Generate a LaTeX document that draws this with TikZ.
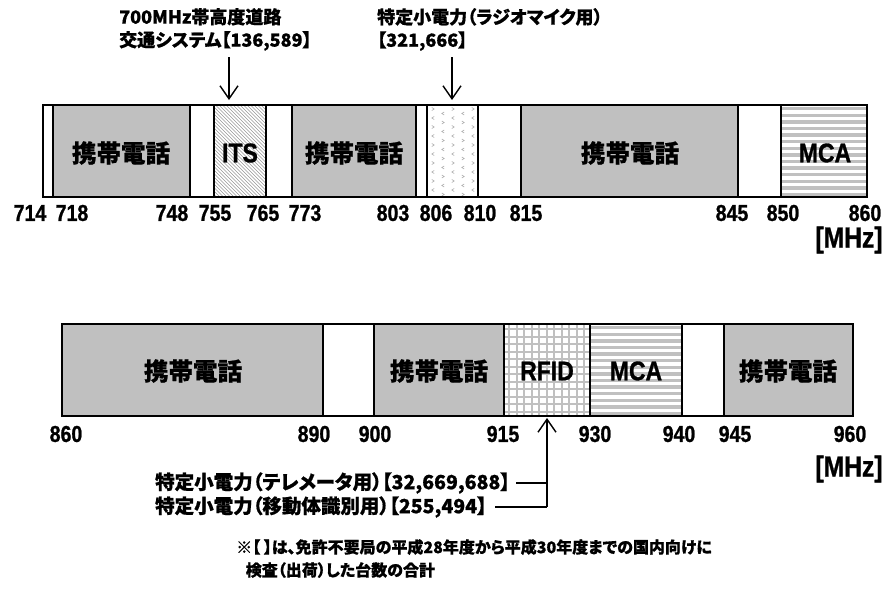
\documentclass[tikz,border=0pt]{standalone}
\usepackage{fontspec}
\setmainfont{Liberation Sans}
\newfontfamily\lat{Liberation Sans Bold}[FakeStretch=0.85,FakeBold=1]
\newfontfamily\jp{Noto Sans CJK JP}[RawFeature=+palt,BoldFeatures={FakeBold=0.8}]
\usetikzlibrary{arrows.meta}
\definecolor{phone}{RGB}{192,192,192}
\definecolor{hatchc}{RGB}{150,150,150}
\definecolor{chevc}{RGB}{160,160,160}
\begin{document}
\begin{tikzpicture}[x=1pt,y=-1pt,
  seg/.style={line width=1.4pt},
  num/.style={font=\lat\fontsize{23}{24}\selectfont,inner sep=0pt},
  unit/.style={font=\lat\fontsize{29}{30}\selectfont,inner sep=0pt},
  blab/.style={font=\lat\fontsize{27}{28}\selectfont,inner sep=0pt},
  jlab/.style={font=\jp\bfseries\fontsize{24.5}{26}\selectfont,inner sep=0pt},
  note/.style={font=\jp\bfseries\fontsize{18}{23}\selectfont,inner sep=0pt,align=left},
  lnote/.style={font=\jp\bfseries\fontsize{19.5}{23}\selectfont,inner sep=0pt},
  foot/.style={font=\jp\bfseries\fontsize{16}{23}\selectfont,inner sep=0pt,align=left},
  arr/.style={line width=1.4pt,-{Straight Barb[length=13pt,width=18pt,line width=1.4pt]}},
  conn/.style={line width=1.4pt},
  chev/.style={draw=chevc,line width=0.5pt}]
\useasboundingbox (0,0) rectangle (885,590);
\fill[white] (0,0) rectangle (885,590);

% ---------------- top band 714-860 ----------------
\fill[phone] (53,105) rectangle (190,197);
\fill[phone] (292,105) rectangle (416,197);
\fill[phone] (521,105) rectangle (738,197);
% ITS hatch
\begin{scope}
  \clip (214,105) rectangle (266,197);
  \foreach \i in {-100,-96.5,...,60}
    \draw[hatchc,line width=0.6pt] (214+\i,105) -- ++(92,92);
\end{scope}
% radio-mic chevrons
\begin{scope}
  \clip (427,105) rectangle (478,197);
  \foreach \i in {0,...,4}{
    \foreach \j in {0,...,10}{
      \pgfmathtruncatemacro\pp{mod(\i+\j,2)}
      \pgfmathsetmacro\cx{433+10*\i}
      \pgfmathsetmacro\cy{109+9*\j+4.5*mod(\i,2)}
      \ifnum\pp=0
        \draw[chev] (\cx-1.2,\cy-1.5) -- (\cx+1.2,\cy) -- (\cx-1.2,\cy+1.5);
      \else
        \draw[chev] (\cx+1.2,\cy-1.5) -- (\cx-1.2,\cy) -- (\cx+1.2,\cy+1.5);
      \fi
    }
  }
\end{scope}
% MCA stripes
\begin{scope}
  \clip (781,105) rectangle (867,197);
  \foreach \k in {0,...,14}
    \fill[phone] (781,107+6.6*\k) rectangle (867,110.3+6.6*\k);
\end{scope}
% outlines
\draw[seg] (43,105) rectangle (867,197);
\foreach \x in {53,190,214,266,292,416,427,478,521,738,781}
  \draw[seg] (\x,105) -- (\x,197);

\node[jlab] (t1) at (121,153) {携帯電話};
\node[blab] (tits) at (240,153) {ITS};
\node[jlab] (t2) at (354,153) {携帯電話};
\node[jlab] (t3) at (630,153) {携帯電話};
\node[blab] (tmca) at (825,153) {MCA};

\node[num] at (30,213) {714};
\node[num] at (72,213) {718};
\node[num] at (172,213) {748};
\node[num] at (215,213) {755};
\node[num] at (263,213) {765};
\node[num] at (305,213) {773};
\node[num] at (393,213) {803};
\node[num] at (436,213) {806};
\node[num] at (480,213) {810};
\node[num] at (526,213) {815};
\node[num] at (732,213) {845};
\node[num] at (783,213) {850};
\node[num] at (865,213) {860};
\node[unit] (mhz1) at (849,240) {[MHz]};

% annotations top
\node[note,anchor=north west] (itsnote) at (119,8) {700MHz帯高度道路\\交通システム【136,589】};
\node[note,anchor=north west] (micnote) at (377,8) {特定小電力（ラジオマイク用）\\【321,666】};
\coordinate (itsA) at (229,57);
\coordinate (itsB) at (229,100);
\coordinate (micA) at (452,57);
\coordinate (micB) at (452,100);
\draw[arr] (itsA) -- (itsB);
\draw[arr] (micA) -- (micB);

% ---------------- bottom band 860-960 ----------------
\fill[phone] (62,324) rectangle (323,416);
\fill[phone] (374,324) rectangle (504,416);
\fill[phone] (724,324) rectangle (853,416);
% RFID grid
\begin{scope}
  \clip (504,324) rectangle (590,416);
  \foreach \k in {0,...,12}
    \fill[phone] (508+7.5*\k,324) rectangle (510+7.5*\k,416);
  \foreach \k in {0,...,12}
    \fill[phone] (504,328+7.5*\k) rectangle (590,330+7.5*\k);
\end{scope}
% MCA stripes
\begin{scope}
  \clip (590,324) rectangle (682,416);
  \foreach \k in {0,...,14}
    \fill[phone] (590,326+6.6*\k) rectangle (682,329.3+6.6*\k);
\end{scope}
\draw[seg] (62,324) rectangle (853,416);
\foreach \x in {323,374,504,590,682,724}
  \draw[seg] (\x,324) -- (\x,416);

\node[jlab] (b1) at (193,371) {携帯電話};
\node[jlab] (b2) at (439,371) {携帯電話};
\node[blab] (brfid) at (547,371) {RFID};
\node[blab] (bmca) at (636,371) {MCA};
\node[jlab] (b3) at (788,371) {携帯電話};

\node[num] at (66,434) {860};
\node[num] at (314,434) {890};
\node[num] at (375,434) {900};
\node[num] at (503,434) {915};
\node[num] at (595,434) {930};
\node[num] at (679,434) {940};
\node[num] at (735,434) {945};
\node[num] at (850,434) {960};
\node[unit] (mhz2) at (849,469) {[MHz]};

% annotations bottom
\node[lnote,anchor=west] (tele) at (155,483) {特定小電力（テレメータ用）【32,669,688】};
\node[lnote,anchor=west] (move) at (155,507) {特定小電力（移動体識別用）【255,494】};
\coordinate (rtip) at (547,418);
\coordinate (rbot) at (547,507);
\draw[arr] (rbot) -- (rtip);
\draw[conn] ([xshift=6pt]tele.east) -- (rtip |- tele.east);
\draw[conn] ([xshift=8pt]move.east) -- (rbot);

% footnote
\node[foot,anchor=north west] (fn) at (236,539) {※【 】は、免許不要局の平成28年度から平成30年度までの国内向けに\\\hspace*{0.6em}検査（出荷）した台数の合計};
\end{tikzpicture}
\end{document}
